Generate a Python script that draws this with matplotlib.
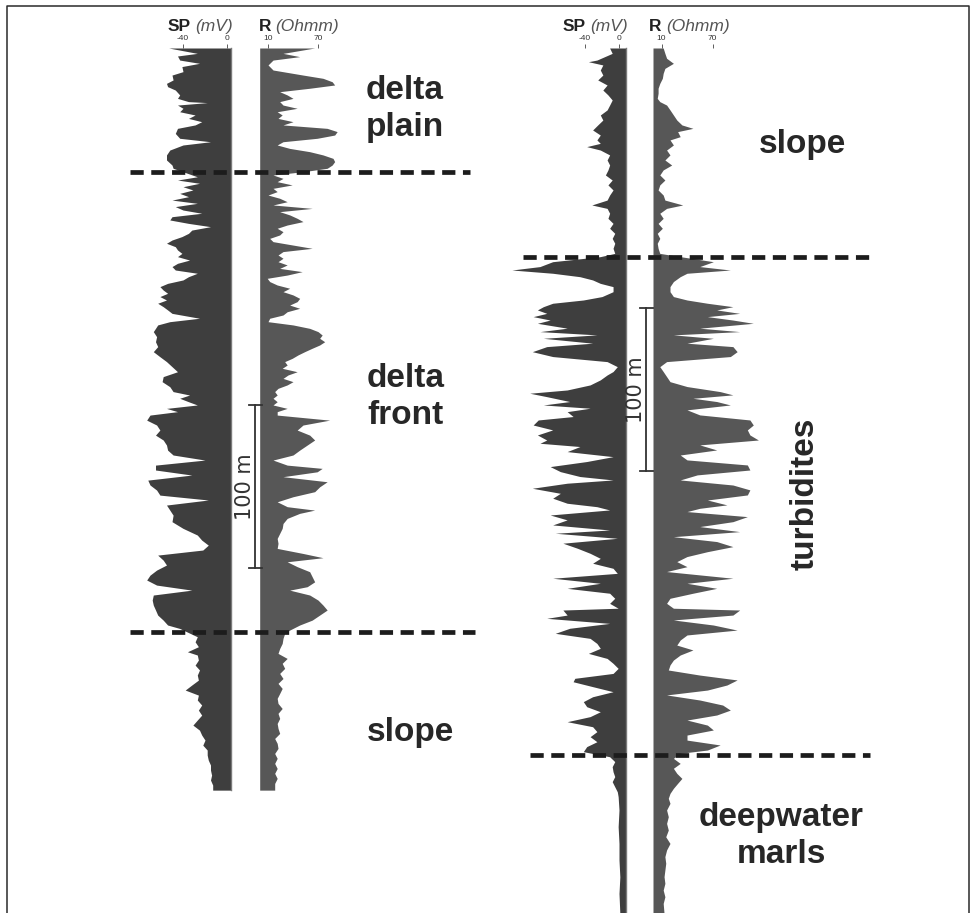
import numpy as np
import matplotlib.pyplot as plt
from matplotlib import transforms

plt.rcParams['font.family'] = ['Liberation Sans', 'DejaVu Sans']
plt.rcParams['axes.unicode_minus'] = False

# (depth in m, SP in mV) and (depth in m, resistivity in ohm.m) along each well
left_sp = [
    (0, -53), (3.3, -27), (4.9, -45), (7.4, -43), (9.4, -25), (11.4, -41), (14.5, -40),
    (16.6, -50), (19.6, -49), (21.7, -55), (23.7, -54), (25.8, -47), (28.8, -43), (30.9, -45),
    (32.9, -35), (33.5, -18), (35.0, -45), (37.0, -40), (39.1, -43), (41.1, -29), (43.2, -35),
    (45.2, -23), (47.2, -29), (49.3, -45), (52.4, -47), (55.4, -43), (57.5, -15), (59.5, -40),
    (62.6, -52), (65.6, -55), (68.7, -55), (71.8, -50), (73.8, -49), (79.0, -27), (81.0, -45),
    (83.0, -25), (85.1, -40), (87.1, -31), (89.2, -43), (91.2, -35), (93.3, -50), (95.3, -27),
    (97.3, -47), (99.4, -40), (101.4, -23), (103.5, -50), (105.5, -52), (107.6, -35), (109.6, -15),
    (111.7, -32), (113.7, -35), (115.7, -41), (117.8, -50), (119.8, -55), (121.9, -47), (123.9, -45),
    (126.0, -41), (128.0, -45), (130.1, -34), (132.1, -45), (134.1, -50), (136.2, -47), (138.2, -27),
    (140.3, -35), (142.3, -40), (144.4, -54), (146.4, -61), (148.5, -58), (150.5, -54), (152.5, -61),
    (154.6, -55), (156.6, -63), (158.7, -58), (160.7, -54), (162.8, -50), (165.8, -25), (167.9, -52),
    (169.9, -63), (172.0, -65), (174.0, -67), (177.1, -64), (180.2, -65), (183.2, -63), (186.3, -67),
    (189.4, -61), (192.4, -55), (195.5, -50), (198.6, -45), (201.6, -58), (204.7, -59), (207.8, -52),
    (210.8, -49), (212.9, -34), (214.9, -43), (217.0, -35), (219.0, -27), (221.1, -55), (223.1, -45),
    (225.2, -70), (228.3, -73), (231.3, -64), (234.4, -61), (237.5, -65), (240.5, -58), (243.6, -55),
    (246.7, -54), (249.7, -49), (252.8, -20), (255.9, -65), (258.9, -65), (262.0, -32), (265.1, -72),
    (268.1, -70), (271.2, -64), (274.3, -61), (277.3, -17), (280.4, -55), (283.5, -52), (286.6, -49),
    (290.6, -50), (294.7, -40), (298.8, -27), (301.9, -23), (305.0, -17), (308.0, -22), (311.1, -63),
    (314.2, -58), (317.2, -55), (320.3, -64), (323.4, -70), (326.4, -73), (329.5, -64), (332.6, -32),
    (335.6, -67), (338.7, -68), (341.8, -67), (344.8, -65), (347.9, -63), (351.0, -58), (354.0, -54),
    (356.1, -43), (361.2, -27), (364.3, -29), (367.3, -26), (370.4, -36), (372.4, -27), (375.5, -26),
    (378.6, -29), (381.6, -25), (384.7, -27), (387.8, -26), (390.8, -32), (393.9, -38), (397.0, -26),
    (400.0, -27), (403.1, -23), (406.2, -26), (409.3, -23), (412.3, -27), (415.4, -31), (418.5, -25),
    (421.5, -23), (424.6, -20), (427.7, -22), (430.7, -18), (433.8, -18), (436.9, -17), (439.9, -15),
    (443.0, -15), (446.1, -14), (449.1, -15), (452.2, -13), (455.3, -13),
]

left_r = [
    (0, 66), (3.3, 28), (5.3, 48), (7.4, 16), (10.4, 10), (13.5, 16), (16.6, 52), (18.6, 76),
    (20.7, 87), (22.7, 90), (24.7, 60), (26.8, 24), (28.8, 33), (30.9, 40), (32.9, 24), (35.0, 28),
    (37.0, 45), (39.1, 21), (41.1, 27), (43.2, 22), (45.2, 40), (47.2, 28), (49.3, 81), (51.3, 93),
    (53.4, 90), (55.4, 69), (57.5, 28), (59.5, 21), (61.6, 36), (63.6, 60), (65.6, 76), (67.7, 88),
    (69.7, 90), (71.8, 87), (73.8, 81), (75.9, 52), (77.9, 16), (80.0, 28), (82.0, 21), (84.0, 39),
    (86.1, 16), (88.1, 21), (90.2, 10), (92.2, 24), (94.3, 33), (96.3, 16), (98.4, 63), (100.4, 24),
    (102.4, 36), (104.5, 45), (106.5, 52), (108.6, 33), (110.6, 21), (112.7, 28), (114.7, 24),
    (116.8, 12), (118.8, 16), (120.9, 40), (122.9, 63), (124.9, 28), (127.0, 22), (129.0, 28),
    (131.1, 22), (133.1, 33), (135.2, 24), (137.2, 51), (139.3, 33), (141.3, 9), (143.3, 12),
    (145.4, 21), (147.4, 36), (149.5, 28), (151.5, 40), (153.6, 48), (155.6, 45), (157.7, 36),
    (159.7, 48), (161.8, 33), (163.8, 28), (165.8, 12), (167.9, 10), (169.9, 40), (172.0, 60),
    (174.0, 70), (176.1, 75), (178.1, 72), (180.2, 78), (182.2, 72), (184.2, 63), (186.3, 54),
    (188.3, 46), (190.4, 39), (192.4, 30), (194.5, 33), (196.5, 27), (198.6, 45), (200.6, 34),
    (202.7, 28), (204.7, 40), (206.7, 33), (208.8, 22), (210.8, 18), (212.9, 21), (214.9, 16),
    (217.0, 21), (219.0, 16), (221.1, 33), (223.1, 21), (225.2, 21), (228.3, 84), (231.3, 52),
    (234.4, 45), (237.5, 60), (240.5, 66), (243.6, 57), (246.7, 48), (249.7, 40), (252.8, 16),
    (255.9, 33), (257.9, 75), (260.0, 69), (263.0, 28), (266.1, 81), (269.2, 72), (272.2, 66),
    (275.3, 40), (278.4, 21), (281.4, 33), (283.5, 66), (285.5, 48), (288.6, 33), (291.7, 28),
    (294.7, 27), (297.8, 24), (300.9, 21), (303.9, 22), (307.0, 21), (310.1, 52), (312.7, 76),
    (315.2, 33), (318.2, 45), (321.3, 60), (324.4, 63), (327.5, 66), (330.5, 57), (332.6, 36),
    (335.6, 60), (338.7, 70), (341.8, 76), (344.8, 81), (347.9, 72), (351.0, 63), (354.0, 48),
    (357.1, 36), (359.1, 30), (362.2, 28), (365.3, 27), (368.4, 24), (371.4, 22), (374.5, 33),
    (377.5, 27), (380.6, 30), (383.7, 24), (386.8, 28), (389.8, 22), (392.9, 27), (396.0, 24),
    (399.0, 21), (402.1, 22), (405.2, 27), (408.2, 22), (411.3, 24), (414.4, 21), (417.4, 22),
    (420.5, 24), (423.6, 18), (426.6, 21), (429.7, 22), (432.8, 18), (435.8, 21), (438.9, 18),
    (442.0, 21), (445.0, 18), (448.1, 21), (451.2, 18), (455.3, 18),
]

right_sp = [
    (0, -11), (3.3, -8), (7.4, -26), (8.4, -36), (10.4, -19), (13.5, -22), (16.6, -19), (19.6, -25),
    (22.7, -14), (25.8, -19), (28.8, -13), (31.9, -8), (35.0, -11), (38.0, -14), (41.1, -22),
    (44.2, -19), (47.2, -25), (50.3, -31), (53.4, -22), (56.4, -26), (58.5, -22), (60.5, -38),
    (62.6, -22), (65.6, -11), (68.7, -14), (71.8, -11), (74.8, -13), (77.9, -16), (81.0, -8),
    (84.0, -13), (87.1, -7), (90.2, -11), (93.3, -14), (96.3, -32), (98.4, -14), (101.4, -11),
    (104.5, -13), (107.6, -7), (110.6, -11), (113.7, -5), (116.8, -8), (119.8, -5), (122.9, -7),
    (126.0, -5), (128.0, -22), (131.1, -78), (134.1, -93), (136.2, -126), (138.2, -78), (140.3, -46),
    (142.3, -31), (144.4, -22), (146.4, -7), (149.5, -7), (152.5, -20), (154.6, -42), (156.6, -78),
    (158.7, -89), (160.7, -96), (162.8, -85), (164.8, -101), (166.9, -81), (168.9, -96),
    (171.9, -61), (174.0, -93), (176.0, -26), (178.1, -89), (181.1, -31), (183.2, -85), (186.3, -102),
    (189.3, -78), (192.4, -14), (195.5, -2), (198.5, -7), (200.6, -14), (203.6, -22), (206.7, -34),
    (209.8, -61), (211.8, -105), (213.9, -85), (216.9, -58), (219.0, -89), (221.0, -34), (223.1, -61),
    (226.1, -54), (228.2, -95), (231.3, -101), (234.3, -78), (237.4, -96), (240.5, -85), (242.5, -93),
    (244.5, -46), (247.6, -61), (250.7, -7), (253.7, -38), (256.8, -81), (259.9, -69), (262.9, -46),
    (265.0, -7), (267.0, -61), (270.1, -102), (273.2, -69), (276.2, -78), (279.3, -61), (281.4, -26),
    (283.4, -11), (286.5, -81), (289.5, -61), (292.6, -78), (295.7, -11), (297.7, -75), (300.8, -2),
    (303.8, -66), (306.9, -49), (310.0, -34), (313.1, -22), (316.1, -31), (319.2, -7), (322.3, -2),
    (325.3, -78), (328.4, -22), (331.5, -61), (334.5, -11), (337.6, -5), (340.7, -11), (343.7, -1),
    (344.8, -66), (347.9, -61), (349.9, -85), (353.0, -11), (356.0, -58), (359.1, -75), (362.2, -34),
    (365.3, -26), (368.3, -22), (371.4, -36), (374.5, -14), (377.5, -7), (380.6, -1), (383.7, -7),
    (386.7, -52), (388.8, -54), (391.8, -31), (394.9, -7), (398.0, -31), (401.0, -42), (404.1, -38),
    (407.2, -22), (410.2, -34), (413.3, -61), (416.4, -31), (419.4, -26), (422.5, -34), (425.6, -26),
    (428.6, -38), (431.7, -42), (434.8, -11), (437.8, -5), (440.9, -8), (444.0, -7), (447.0, -5),
    (450.1, -8), (453.2, -5), (456.3, -2), (459.3, -1), (467.5, 0), (477.7, -1), (488.0, 0),
    (498.2, 0), (508.5, 1), (518.7, 0), (531.0, 1),
]

right_r = [
    (0, 12), (3.3, 14), (6.3, 16), (9.4, 24), (12.5, 14), (15.5, 12), (18.6, 11), (21.7, 8),
    (24.7, 6), (27.8, 6), (30.9, 5), (32.9, 8), (35.0, 16), (38.0, 20), (41.1, 24), (44.2, 28),
    (47.2, 34), (49.3, 47), (51.3, 29), (54.4, 32), (56.4, 20), (59.5, 24), (62.6, 16), (65.6, 20),
    (68.7, 14), (71.8, 22), (74.8, 12), (77.9, 8), (81.0, 14), (84.0, 8), (87.1, 6), (90.2, 12),
    (93.3, 14), (96.3, 35), (98.4, 16), (101.4, 8), (104.5, 12), (107.6, 6), (110.6, 11), (113.7, 5),
    (116.8, 8), (119.8, 5), (122.9, 6), (126.0, 8), (128.0, 32), (131.1, 71), (134.1, 55),
    (136.2, 91), (138.2, 40), (140.3, 32), (143.3, 24), (146.4, 20), (149.5, 20), (152.5, 24),
    (154.6, 40), (156.6, 64), (158.7, 94), (160.7, 75), (162.8, 102), (164.8, 64), (166.9, 94),
    (168.9, 118), (171.9, 55), (174.0, 102), (176.0, 24), (178.1, 71), (181.1, 40), (183.2, 94),
    (186.3, 99), (189.3, 91), (192.4, 16), (195.5, 8), (198.5, 12), (201.6, 16), (204.7, 20),
    (207.7, 40), (210.8, 79), (212.8, 94), (214.9, 47), (216.9, 75), (219.0, 91), (222.0, 40),
    (225.1, 55), (228.2, 114), (231.3, 118), (234.3, 111), (237.4, 114), (240.5, 124), (243.5, 55),
    (246.6, 75), (249.7, 32), (252.7, 40), (255.8, 111), (258.9, 114), (261.9, 52), (265.0, 32),
    (268.1, 94), (271.1, 114), (274.2, 111), (277.3, 64), (280.3, 87), (282.4, 55), (284.4, 40),
    (287.5, 111), (290.6, 94), (293.6, 55), (296.7, 102), (299.8, 24), (302.8, 75), (305.9, 94),
    (309.0, 64), (312.0, 40), (315.1, 28), (318.2, 40), (321.2, 16), (325.3, 94), (328.4, 40),
    (331.5, 75), (334.5, 47), (337.6, 20), (340.7, 16), (343.7, 24), (344.8, 102), (347.9, 94),
    (350.9, 24), (354.0, 71), (357.1, 99), (360.1, 40), (363.2, 32), (366.3, 28), (369.3, 47),
    (372.4, 32), (375.5, 24), (378.5, 20), (381.6, 18), (384.7, 55), (387.7, 99), (390.8, 87),
    (393.9, 64), (396.9, 16), (400.0, 55), (403.1, 82), (406.2, 91), (409.2, 75), (412.3, 40),
    (415.4, 64), (418.4, 71), (421.5, 40), (424.6, 40), (427.6, 79), (430.7, 64), (432.7, 32),
    (435.8, 24), (438.9, 32), (441.9, 24), (445.0, 28), (448.1, 34), (451.1, 29), (454.2, 24),
    (457.3, 20), (460.3, 18), (463.4, 20), (467.5, 16), (471.6, 18), (475.7, 16), (479.8, 18),
    (483.9, 15), (488.0, 20), (492.0, 16), (496.1, 14), (500.2, 15), (504.3, 14), (508.4, 13),
    (512.5, 14), (516.6, 12), (520.7, 14), (524.8, 12), (531.0, 13),
]

# facies boundaries (m)
left_tops = [76.1, 358.3]
right_tops = [128.2, 433.7]

sp_ticks = [-40, 0]
r_ticks = [10, 70]

W, H = 977, 913
PX_PER_M = 1.63
SP_COLOR = '#3e3e3e'
R_COLOR = '#575757'
INK = '#272727'

fig = plt.figure(figsize=(W / 100, H / 100), dpi=100)

# overlay in pixel units for text, frame and correlation lines
ov = fig.add_axes([0, 0, 1, 1], zorder=5)
ov.set_xlim(0, W)
ov.set_ylim(H, 0)
ov.axis('off')
ov.patch.set_alpha(0)


def track(x0, x1, zero_px, px_per_unit, top, bottom, ticks):
    ax = fig.add_axes([x0 / W, 1 - bottom / H, (x1 - x0) / W, (bottom - top) / H])
    ax.set_xlim((x0 - zero_px) / px_per_unit, (x1 - zero_px) / px_per_unit)
    ax.set_ylim((bottom - top) / PX_PER_M, 0)
    ax.patch.set_alpha(0)
    for s in ax.spines.values():
        s.set_visible(False)
    ax.set_yticks([])
    ax.xaxis.tick_top()
    ax.set_xticks(ticks)
    ax.set_xticklabels([str(t) for t in ticks])
    ax.tick_params(axis='x', length=3, width=0.6, pad=1, labelsize=6,
                   color='#444444', labelcolor='#333333')
    return ax


def draw_well(sp, r, sp_box, r_box, top, bottom):
    d, v = np.array(sp).T
    ax_sp = track(*sp_box, top, bottom, sp_ticks)
    edge = ax_sp.get_xlim()[1]
    ax_sp.fill_betweenx(d, v, edge, color=SP_COLOR, lw=0)
    ax_sp.axvline(edge, color='#7a7a7a', lw=1, clip_on=False)
    d, v = np.array(r).T
    ax_r = track(*r_box, top, bottom, r_ticks)
    ax_r.fill_betweenx(d, 0, v, color=R_COLOR, lw=0)
    return ax_sp, ax_r


def header(x_sp, x_mv, x_r, x_ohm):
    kw = dict(fontsize=12.5, va='baseline')
    ov.text(x_sp, 31, 'SP', weight='bold', color='#222222', **kw)
    ov.text(x_mv, 31, '(mV)', style='italic', color='#555555', **kw)
    ov.text(x_r, 31, 'R', weight='bold', color='#222222', **kw)
    ov.text(x_ohm, 31, '(Ohmm)', style='italic', color='#555555', **kw)


def facies_line(ax, depth, x0, x1):
    tr = transforms.blended_transform_factory(ov.transData, ax.transData)
    ov.plot([x0, x1], [depth, depth], transform=tr, color='#1c1c1c', lw=3.4,
            linestyle=(0, (2.8, 1.6)), solid_capstyle='butt')


def scale_bar(ax, x, d0, x_text):
    tr = transforms.blended_transform_factory(ov.transData, ax.transData)
    ov.plot([x, x], [d0, d0 + 100], transform=tr, color='#333333', lw=1.3)
    for d in (d0, d0 + 100):
        ov.plot([x - 6.5, x + 6.5], [d, d], transform=tr, color='#333333', lw=1.3)
    ov.text(x_text, d0 + 50, '100 m', transform=tr, rotation=90, ha='center', va='center',
            fontsize=15, family='DejaVu Sans', color='#333333')


# left well: delta plain / delta front / slope
l_sp, l_r = draw_well(left_sp, left_r, (130, 231, 227, 1.1), (259.7, 360, 259.7, 0.833), 48, 790)
header(168, 195, 259, 275)
facies_line(l_sp, left_tops[0], 130, 470)
facies_line(l_sp, left_tops[1], 130, 475)
scale_bar(l_sp, 255, 219, 245)

# right well: slope / turbidites / deepwater marls
r_sp, r_r = draw_well(right_sp, right_r, (500, 625.5, 619, 0.85), (653, 780, 653, 0.85), 48, 913)
header(563, 590, 649, 666)
facies_line(r_sp, right_tops[0], 523, 870)
facies_line(r_sp, right_tops[1], 530, 870)
scale_bar(r_sp, 646, 159.5, 636)

lab = dict(fontsize=24, weight='bold', color=INK, ha='center', va='center',
           multialignment='center', linespacing=1.22)
ov.text(405, 109, 'delta\nplain', **lab)
ov.text(406, 397, 'delta\nfront', **lab)
ov.text(410, 733, 'slope', **lab)
ov.text(802, 145, 'slope', **lab)
ov.text(805, 494, 'turbidites', rotation=90, **lab)
ov.text(781, 836, 'deepwater\nmarls', **lab)

# outer frame
ov.plot([7, 7, 969, 969], [H, 6.5, 6.5, H], color='#2a2a2a', lw=1.1)

fig.savefig('out.png', dpi=100)
